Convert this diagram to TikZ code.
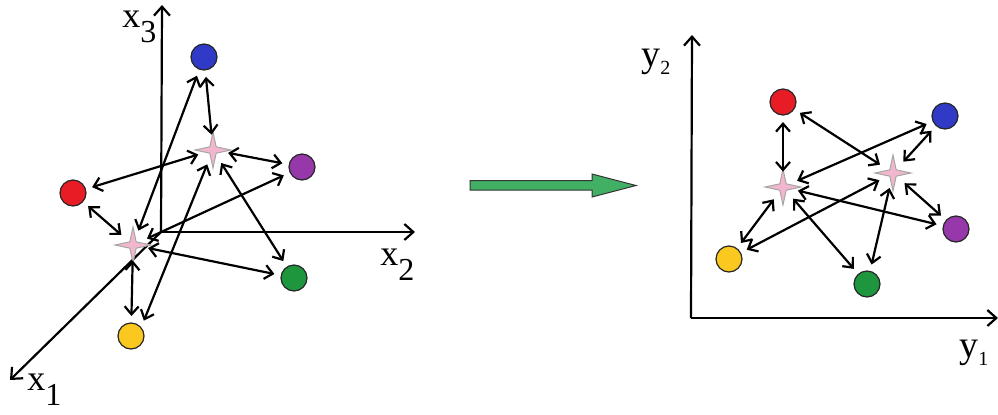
\documentclass[tikz,border=0pt]{standalone}
\usepackage{fontspec}
\setmainfont{Liberation Serif}
\usetikzlibrary{arrows.meta,shapes.geometric}
\definecolor{vermelho}{RGB}{232,28,36}
\definecolor{azul}{RGB}{48,58,198}
\definecolor{roxo}{RGB}{150,56,170}
\definecolor{verde}{RGB}{30,150,62}
\definecolor{amarelo}{RGB}{250,200,30}
\definecolor{rosa}{RGB}{242,182,206}
\definecolor{verdeseta}{RGB}{66,176,100}
\newcommand{\xrot}[1]{{\fontsize{18}{18}\selectfont x}\raisebox{-7.5pt}{\fontsize{16}{16}\selectfont #1}}
\newcommand{\yrot}[1]{{\fontsize{19}{19}\selectfont y}\raisebox{-4pt}{\fontsize{10}{10}\selectfont #1}}

\begin{document}
\begin{tikzpicture}[
x=0.5pt, y=-0.5pt,
ponto/.style={
circle,
draw=black!85,
line width=0.6pt,
minimum size=13pt,
inner sep=0pt,
outer sep=3.5pt
},
centro/.style={
circle,
inner sep=0pt,
minimum size=15pt,
label={[estrela]center:}
},
estrela/.style={
star,
star points=4,
star point ratio=4,
minimum size=18pt,
inner sep=0pt,
fill=rosa,
draw=gray!70,
line width=0.5pt
},
seta/.style={{Straight Barb[length=4pt,width=7pt]}-{Straight Barb[length=4pt,width=7pt]}, line width=1.1pt},
eixo/.style={-{Straight Barb[length=4.5pt,width=8pt]}, line width=1.1pt},
rotulo/.style={anchor=base west, inner sep=0pt}
]
\useasboundingbox (0,0) rectangle (998,414);

% espaco original
\coordinate (o1) at (161,232);
\coordinate (fx1) at (10,380);
\coordinate (fx2) at (415,232);
\coordinate (fx3) at (162,5);
\draw[eixo] (o1) -- (fx3);
\draw[eixo] (o1) -- (fx2);
\draw[eixo] (o1) -- (fx1);
\node[rotulo] (rx3) at (122,27) {\xrot{3}};
\node[rotulo] (rx2) at (380,265) {\xrot{2}};
\node[rotulo] (rx1) at (27,390) {\xrot{1}};

\node[ponto, fill=azul] (azul1) at (204,57) {};
\node[ponto, fill=roxo] (roxo1) at (302,167) {};
\node[ponto, fill=vermelho] (verm1) at (73,193) {};
\node[ponto, fill=verde] (verde1) at (294,278) {};
\node[ponto, fill=amarelo] (amar1) at (131,336) {};
\node[centro] (ca) at (213,150) {};
\node[centro] (cb) at (133,245) {};

\draw[seta] (azul1) -- (ca);
\draw[seta] (ca) -- (roxo1);
\draw[seta] (verm1) -- (ca);
\draw[seta] (verm1) -- (cb);
\draw[seta] (azul1) -- (cb);
\draw[seta] (cb) -- (roxo1);
\draw[seta] (ca) -- (amar1.50);
\draw[seta] (ca) -- (verde1);
\draw[seta] (cb) -- (verde1);
\draw[seta] (cb) -- (amar1);

% seta de transformacao
\draw[fill=verdeseta, draw=black!80, line width=0.5pt]
(470,180.5) -- (592,180.5) -- (592,174) -- (636,185.5) -- (592,197) -- (592,190) -- (470,190) -- cycle;

% espaco reduzido
\coordinate (o2) at (691,318);
\coordinate (fy1) at (998,318);
\coordinate (fy2) at (692,35);
\draw[eixo] (o2) -- (fy2);
\draw[eixo] (o2) -- (fy1);
\node[rotulo] (ry2) at (641,66) {\yrot{2}};
\node[rotulo] (ry1) at (959,357) {\yrot{1}};

\node[ponto, fill=vermelho] (verm2) at (783,102) {};
\node[ponto, fill=azul] (azul2) at (945,116) {};
\node[ponto, fill=roxo] (roxo2) at (956,229) {};
\node[ponto, fill=verde] (verde2) at (867,284) {};
\node[ponto, fill=amarelo] (amar2) at (729,259) {};
\node[centro] (cc) at (783,187) {};
\node[centro] (cd) at (893,173) {};

\draw[seta] (verm2) -- (cc);
\draw[seta] (verm2) -- (cd);
\draw[seta] (azul2) -- (cc);
\draw[seta] (azul2) -- (cd);
\draw[seta] (cc) -- (amar2);
\draw[seta] (cd) -- (amar2);
\draw[seta] (cc) -- (roxo2);
\draw[seta] (cc) -- (verde2);
\draw[seta] (cd) -- (verde2);
\draw[seta] (cd) -- (roxo2);

\end{tikzpicture}
\end{document}
